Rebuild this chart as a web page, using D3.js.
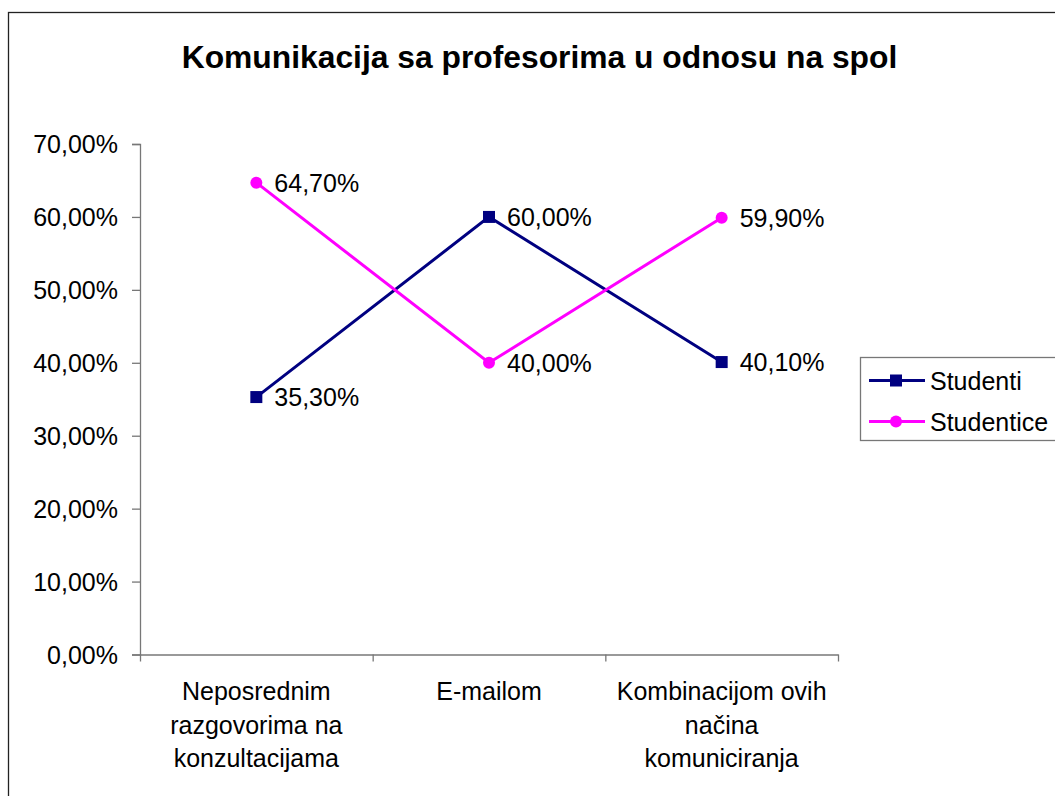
<!DOCTYPE html>
<html>
<head>
<meta charset="utf-8">
<script src="https://cdn.jsdelivr.net/npm/d3@7/dist/d3.min.js"></script>
<style>
  html, body { margin: 0; padding: 0; background: #fff; }
  svg { display: block; }
  text { font-family: "Liberation Sans", Arial, sans-serif; fill: #000; }
</style>
</head>
<body>
<svg id="chart" width="1055" height="796"></svg>
<script>
const title = "Komunikacija sa profesorima u odnosu na spol";
const categories = [
  ["Neposrednim", "razgovorima na", "konzultacijama"],
  ["E-mailom"],
  ["Kombinacijom ovih", "načina", "komuniciranja"]
];
const seriesNames = ["Studenti", "Studentice"];
const studenti = [35.3, 60.0, 40.1];
const studentice = [64.7, 40.0, 59.9];
const yTicks = [0, 10, 20, 30, 40, 50, 60, 70];

const colors = ["#000080", "#FF00FF"];
const seriesData = [studenti, studentice];

const svg = d3.select("#chart");
const W = 1055, H = 796;

// outer chart border (extends beyond right/bottom edges)
svg.append("rect")
  .attr("x", 8.5).attr("y", 12.5)
  .attr("width", W + 20).attr("height", H + 20)
  .attr("fill", "#fff").attr("stroke", "#222").attr("stroke-width", 1.3);

const plot = { left: 140, right: 838, top: 144, bottom: 654.5 };

const x = d3.scaleBand()
  .domain(d3.range(categories.length))
  .range([plot.left, plot.right])
  .paddingInner(0).paddingOuter(0);

const y = d3.scaleLinear().domain([0, 70]).range([plot.bottom, plot.top]);

const fmt = v => v.toFixed(2).replace(".", ",") + "%";

// title
svg.append("text")
  .attr("x", 539.5).attr("y", 68)
  .attr("text-anchor", "middle")
  .style("font-weight", "bold")
  .style("font-size", "31.8px")
  .text(title);

// y axis
const yAxis = d3.axisLeft(y).tickValues(yTicks).tickSize(8).tickPadding(14)
  .tickFormat(d => fmt(d));
const gy = svg.append("g").attr("transform", `translate(${plot.left},0)`).call(yAxis);
gy.select(".domain").attr("stroke", "#777").attr("stroke-width", 1.3);
gy.selectAll(".tick line").attr("stroke", "#777").attr("stroke-width", 1.3);
gy.selectAll(".tick text")
  .style("font-size", "25px")
  .style("font-family", "'Liberation Sans', Arial, sans-serif")
  .attr("fill", "#000")
  .attr("dy", "0.34em");

// x axis line with ticks at category boundaries
const xb = d3.scaleLinear().domain([0, categories.length]).range([plot.left, plot.right]);
const xAxis = d3.axisBottom(xb).tickValues(d3.range(categories.length + 1)).tickSize(7).tickSizeOuter(0).tickFormat("");
const gx = svg.append("g").attr("transform", `translate(0,${plot.bottom})`).call(xAxis);
gx.select(".domain").attr("stroke", "#777").attr("stroke-width", 1.3);
gx.selectAll(".tick line").attr("stroke", "#777").attr("stroke-width", 1.3);

// category labels
const catG = svg.append("g");
categories.forEach((lines, i) => {
  const t = catG.append("text")
    .attr("x", x(i) + x.bandwidth() / 2)
    .attr("y", 700)
    .attr("text-anchor", "middle")
    .style("font-size", "25px");
  lines.forEach((ln, j) => {
    t.append("tspan").attr("x", x(i) + x.bandwidth() / 2).attr("dy", j === 0 ? 0 : 33.5).text(ln);
  });
});

const cx = i => x(i) + x.bandwidth() / 2;
const line = d3.line().x((d, i) => cx(i)).y(d => y(d));

seriesData.forEach((vals, s) => {
  const g = svg.append("g");
  g.append("path").datum(vals)
    .attr("d", line).attr("fill", "none")
    .attr("stroke", colors[s]).attr("stroke-width", 3);
  if (s === 0) {
    g.selectAll("rect").data(vals).enter().append("rect")
      .attr("x", (d, i) => cx(i) - 6).attr("y", d => y(d) - 6)
      .attr("width", 12).attr("height", 12).attr("fill", colors[s]);
  } else {
    g.selectAll("circle").data(vals).enter().append("circle")
      .attr("cx", (d, i) => cx(i)).attr("cy", d => y(d)).attr("r", 6)
      .attr("fill", colors[s]);
  }
  g.selectAll("text.lbl").data(vals).enter().append("text")
    .attr("class", "lbl")
    .attr("x", (d, i) => cx(i) + 18)
    .attr("y", d => y(d) + 9)
    .style("font-size", "25px")
    .text(d => fmt(d));
});

// legend
const lg = svg.append("g");
lg.append("rect").attr("x", 860.5).attr("y", 357.5).attr("width", 220).attr("height", 83)
  .attr("fill", "#fff").attr("stroke", "#777").attr("stroke-width", 1.3);
const legendY = [380.5, 421.5];
seriesNames.forEach((name, s) => {
  const ly = legendY[s];
  lg.append("line").attr("x1", 869).attr("x2", 925).attr("y1", ly).attr("y2", ly)
    .attr("stroke", colors[s]).attr("stroke-width", 3);
  if (s === 0) {
    lg.append("rect").attr("x", 896 - 6).attr("y", ly - 6).attr("width", 12).attr("height", 12).attr("fill", colors[s]);
  } else {
    lg.append("circle").attr("cx", 896).attr("cy", ly).attr("r", 6).attr("fill", colors[s]);
  }
  lg.append("text").attr("x", 930).attr("y", ly + 9).style("font-size", "25px").text(name);
});
</script>
</body>
</html>
